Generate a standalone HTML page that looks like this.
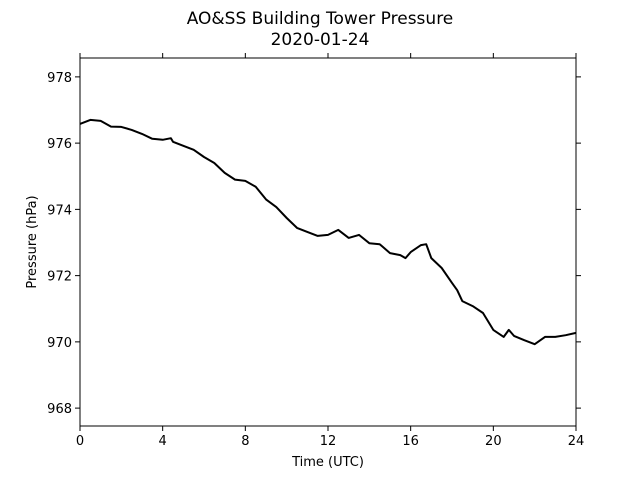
<!DOCTYPE html>
<html><head><meta charset="utf-8"><style>
html,body{margin:0;padding:0;background:#fff;}
svg{display:block;font-family:"DejaVu Sans","Liberation Sans",sans-serif;}
</style></head><body>
<svg id="chart" width="640" height="480" viewBox="0 0 640 480">
<text x="320" y="24" text-anchor="middle" font-size="17">AO&amp;SS Building Tower Pressure</text>
<text x="320" y="45" text-anchor="middle" font-size="17">2020-01-24</text>
<g id="plot"></g>
<text x="328" y="466" text-anchor="middle" font-size="13">Time (UTC)</text>
<text transform="translate(36,242) rotate(-90)" text-anchor="middle" font-size="13">Pressure (hPa)</text>
</svg>
<script>
const times=[0,0.5,1,1.5,2,2.5,3,3.5,4,4.4,4.5,5,5.5,6,6.5,7,7.5,8,8.5,9,9.5,10,10.5,11,11.5,12,12.5,13,13.5,14,14.5,15,15.5,15.75,16,16.5,16.75,17,17.5,18,18.25,18.5,19,19.5,20,20.5,20.75,21,21.5,22,22.5,23,23.5,24];
const pressure=[976.58,976.70,976.67,976.5,976.49,976.4,976.28,976.13,976.1,976.15,976.04,975.92,975.8,975.58,975.4,975.1,974.9,974.86,974.68,974.3,974.07,973.74,973.44,973.32,973.2,973.23,973.38,973.14,973.23,972.98,972.95,972.68,972.62,972.53,972.71,972.92,972.95,972.53,972.23,971.78,971.56,971.23,971.08,970.87,970.36,970.15,970.36,970.18,970.05,969.93,970.15,970.15,970.2,970.27];
const xTicks=[0,4,8,12,16,20,24];
const yTicks=[968,970,972,974,976,978];
const L=80,R=576,T=58,B=426,xMin=0,xMax=24,yMin=967.46,yMax=978.57;
const xs=v=>L+(v-xMin)/(xMax-xMin)*(R-L);
const ys=v=>B-(v-yMin)/(yMax-yMin)*(B-T);
const NS='http://www.w3.org/2000/svg';
const g=document.getElementById('plot');
function mk(t,a){const e=document.createElementNS(NS,t);for(const k in a)e.setAttribute(k,a[k]);g.appendChild(e);return e;}
const line=mk('polyline',{points:times.map((t,i)=>xs(t).toFixed(1)+','+ys(pressure[i]).toFixed(1)).join(' '),fill:'none',stroke:'#000','stroke-width':2,'stroke-linejoin':'round'});


xTicks.forEach(v=>{const x=xs(v);
 const a=mk('line',{x1:x,x2:x,y1:B,y2:B+5,stroke:'#000'});
 
 
 const b=mk('line',{x1:x,x2:x,y1:T,y2:T-5,stroke:'#000'});
 
 
 const t=mk('text',{x:x,y:B+19,'text-anchor':'middle','font-size':13});t.textContent=v;
 
 
});
yTicks.forEach(v=>{const y=ys(v);
 const a=mk('line',{x1:L,x2:L-5,y1:y,y2:y,stroke:'#000'});
 
 
 const b=mk('line',{x1:R,x2:R+5,y1:y,y2:y,stroke:'#000'});
 
 
 const t=mk('text',{x:L-8,y:y+5,'text-anchor':'end','font-size':13});t.textContent=v;
 
 
});
const fr=mk('rect',{x:L,y:T,width:R-L,height:B-T,fill:'none',stroke:'#000','stroke-width':1});


</script>
</body></html>
